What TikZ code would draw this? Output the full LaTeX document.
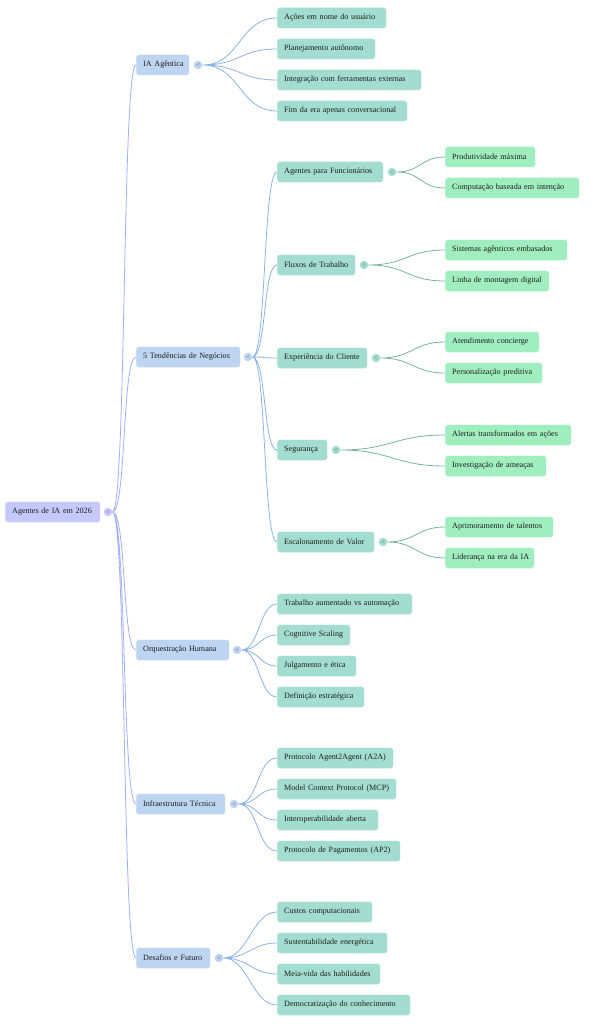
\documentclass[tikz,border=0pt]{standalone}
\usepackage{fontspec}
\setmainfont{Liberation Serif}
\usepackage{tikz}
\definecolor{RootLilac}{HTML}{C4C9FA}
\definecolor{TopicBlue}{HTML}{BDD5F0}
\definecolor{ItemTeal}{HTML}{A2DDCF}
\definecolor{LeafGreen}{HTML}{A0EEBF}
\definecolor{LinkLilac}{HTML}{A3AEF8}
\definecolor{LinkBlue}{HTML}{8DB3E6}
\definecolor{LinkTeal}{HTML}{78B3A2}
\definecolor{InkGray}{HTML}{1E1E1E}

\begin{document}
\begin{tikzpicture}[x=1pt, y=-1pt,
  every node/.style={font=\fontsize{8.1}{9}\selectfont, text=InkGray},
  box/.style={anchor=west, rounded corners=2.5pt, minimum height=20.5pt,
    inner xsep=7pt, inner ysep=0pt, align=left, draw=white!70!#1, fill=#1,
    execute at begin node={\hbox\bgroup}, execute at end node={\egroup}},
  knob/.style={circle, inner sep=0pt, minimum size=8.5pt, fill=#1,
    font=\fontsize{7}{7}\selectfont, text=black!60},
  link/.style={draw=#1, line width=0.8pt}]
  \useasboundingbox (0,0) rectangle (598,1024);

  % Root
  \node[box=RootLilac, text width=81pt] (root) at (5,512) {Agentes de IA em 2026};
  \node[knob=RootLilac] (k0) at (108,512) {<};

  % First level topics
  \node[box=TopicBlue, text width=39pt] (ia) at (136,65) {IA Agêntica};
  \node[box=TopicBlue, text width=90pt] (tend) at (136,357) {5 Tendências de Negócios};
  \node[box=TopicBlue, text width=79pt] (orq) at (136,650) {Orquestração Humana};
  \node[box=TopicBlue, text width=75pt] (infra) at (136,804) {Infraestrutura Técnica};
  \node[box=TopicBlue, text width=60pt] (desaf) at (136,958) {Desafios e Futuro};
  \node[knob=TopicBlue] (kia) at (198,65) {<};
  \node[knob=TopicBlue] (ktend) at (248,357) {<};
  \node[knob=TopicBlue] (korq) at (237,650) {<};
  \node[knob=TopicBlue] (kinfra) at (234,804) {<};
  \node[knob=TopicBlue] (kdesaf) at (219,958) {<};

  \draw[link=LinkLilac]
    (k0.east) .. controls +(14,0) and +(-14,0) .. (ia.west)
    (k0.east) .. controls +(14,0) and +(-14,0) .. (tend.west)
    (k0.east) .. controls +(14,0) and +(-14,0) .. (orq.west)
    (k0.east) .. controls +(14,0) and +(-14,0) .. (infra.west)
    (k0.east) .. controls +(14,0) and +(-14,0) .. (desaf.west);

  % IA Agentica
  \node[box=ItemTeal, text width=95pt] (ia1) at (277,18) {Ações em nome do usuário};
  \node[box=ItemTeal, text width=84pt] (ia2) at (277,49) {Planejamento autônomo};
  \node[box=ItemTeal, text width=130pt] (ia3) at (277,80) {Integração com ferramentas externas};
  \node[box=ItemTeal, text width=116pt] (ia4) at (277,111) {Fim da era apenas conversacional};
  \draw[link=LinkBlue]
    (kia.east) .. controls +(38,0) and +(-38,0) .. (ia1.west)
    (kia.east) .. controls +(38,0) and +(-38,0) .. (ia2.west)
    (kia.east) .. controls +(38,0) and +(-38,0) .. (ia3.west)
    (kia.east) .. controls +(38,0) and +(-38,0) .. (ia4.west);

  % Tendencias de negocios
  \node[box=ItemTeal, text width=92pt] (t1) at (277,172) {Agentes para Funcionários};
  \node[box=ItemTeal, text width=64pt] (t2) at (277,265) {Fluxos de Trabalho};
  \node[box=ItemTeal, text width=76pt] (t3) at (277,358) {Experiência do Cliente};
  \node[box=ItemTeal, text width=36pt] (t4) at (277,450) {Segurança};
  \node[box=ItemTeal, text width=83pt] (t5) at (277,542) {Escalonamento de Valor};
  \draw[link=LinkBlue]
    (ktend.east) .. controls +(14,0) and +(-14,0) .. (t1.west)
    (ktend.east) .. controls +(14,0) and +(-14,0) .. (t2.west)
    (ktend.east) .. controls +(14,0) and +(-14,0) .. (t3.west)
    (ktend.east) .. controls +(14,0) and +(-14,0) .. (t4.west)
    (ktend.east) .. controls +(14,0) and +(-14,0) .. (t5.west);
  \node[knob=ItemTeal] (kt1) at (392,172) {<};
  \node[knob=ItemTeal] (kt2) at (364,265) {<};
  \node[knob=ItemTeal] (kt3) at (376,358) {<};
  \node[knob=ItemTeal] (kt4) at (336,450) {<};
  \node[knob=ItemTeal] (kt5) at (383,542) {<};

  \node[box=LeafGreen, text width=76pt] (t11) at (445,157) {Produtividade máxima};
  \node[box=LeafGreen, text width=120pt] (t12) at (445,188) {Computação baseada em intenção};
  \node[box=LeafGreen, text width=108pt] (t21) at (445,250) {Sistemas agênticos embasados};
  \node[box=LeafGreen, text width=90pt] (t22) at (445,281) {Linha de montagem digital};
  \node[box=LeafGreen, text width=80pt] (t31) at (445,342) {Atendimento concierge};
  \node[box=LeafGreen, text width=83pt] (t32) at (445,373) {Personalização preditiva};
  \node[box=LeafGreen, text width=112pt] (t41) at (445,435) {Alertas transformados em ações};
  \node[box=LeafGreen, text width=87pt] (t42) at (445,466) {Investigação de ameaças};
  \node[box=LeafGreen, text width=94pt] (t51) at (445,527) {Aprimoramento de talentos};
  \node[box=LeafGreen, text width=75pt] (t52) at (445,558) {Liderança na era da IA};
  \draw[link=LinkTeal]
    (kt1.east) .. controls +(25,0) and +(-25,0) .. (t11.west)
    (kt1.east) .. controls +(25,0) and +(-25,0) .. (t12.west)
    (kt2.east) .. controls +(38,0) and +(-38,0) .. (t21.west)
    (kt2.east) .. controls +(38,0) and +(-38,0) .. (t22.west)
    (kt3.east) .. controls +(32,0) and +(-32,0) .. (t31.west)
    (kt3.east) .. controls +(32,0) and +(-32,0) .. (t32.west)
    (kt4.east) .. controls +(50,0) and +(-50,0) .. (t41.west)
    (kt4.east) .. controls +(50,0) and +(-50,0) .. (t42.west)
    (kt5.east) .. controls +(28,0) and +(-28,0) .. (t51.west)
    (kt5.east) .. controls +(28,0) and +(-28,0) .. (t52.west);

  % Orquestracao humana
  \node[box=ItemTeal, text width=121pt] (o1) at (277,604) {Trabalho aumentado vs automação};
  \node[box=ItemTeal, text width=59pt] (o2) at (277,635) {Cognitive Scaling};
  \node[box=ItemTeal, text width=65pt] (o3) at (277,666) {Julgamento e ética};
  \node[box=ItemTeal, text width=73pt] (o4) at (277,697) {Definição estratégica};
  \draw[link=LinkBlue]
    (korq.east) .. controls +(18,0) and +(-18,0) .. (o1.west)
    (korq.east) .. controls +(18,0) and +(-18,0) .. (o2.west)
    (korq.east) .. controls +(18,0) and +(-18,0) .. (o3.west)
    (korq.east) .. controls +(18,0) and +(-18,0) .. (o4.west);

  % Infraestrutura tecnica
  \node[box=ItemTeal, text width=102pt] (i1) at (277,758) {Protocolo Agent2Agent (A2A)};
  \node[box=ItemTeal, text width=105pt] (i2) at (277,789) {Model Context Protocol (MCP)};
  \node[box=ItemTeal, text width=87pt] (i3) at (277,820) {Interoperabilidade aberta};
  \node[box=ItemTeal, text width=109pt] (i4) at (277,851) {Protocolo de Pagamentos (AP2)};
  \draw[link=LinkBlue]
    (kinfra.east) .. controls +(20,0) and +(-20,0) .. (i1.west)
    (kinfra.east) .. controls +(20,0) and +(-20,0) .. (i2.west)
    (kinfra.east) .. controls +(20,0) and +(-20,0) .. (i3.west)
    (kinfra.east) .. controls +(20,0) and +(-20,0) .. (i4.west);

  % Desafios e futuro
  \node[box=ItemTeal, text width=81pt] (d1) at (277,912) {Custos computacionais};
  \node[box=ItemTeal, text width=96pt] (d2) at (277,943) {Sustentabilidade energética};
  \node[box=ItemTeal, text width=89pt] (d3) at (277,974) {Meia-vida das habilidades};
  \node[box=ItemTeal, text width=119pt] (d4) at (277,1005) {Democratização do conhecimento};
  \draw[link=LinkBlue]
    (kdesaf.east) .. controls +(25,0) and +(-25,0) .. (d1.west)
    (kdesaf.east) .. controls +(25,0) and +(-25,0) .. (d2.west)
    (kdesaf.east) .. controls +(25,0) and +(-25,0) .. (d3.west)
    (kdesaf.east) .. controls +(25,0) and +(-25,0) .. (d4.west);
\end{tikzpicture}
\end{document}
